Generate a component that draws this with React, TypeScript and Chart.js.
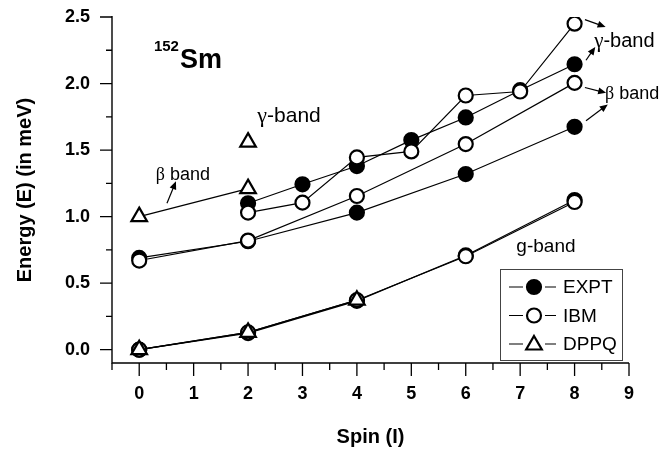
import React, { useEffect, useRef } from 'react';
import { Chart, registerables } from 'chart.js';

Chart.register(...registerables);

// ---------- axis ranges & ticks ----------
const X_MIN = -0.5;
const X_MAX = 9;
const Y_MIN = -0.1;
const Y_MAX = 2.5;
const xMajor = [0, 1, 2, 3, 4, 5, 6, 7, 8, 9];
const xMinor = [-0.5, 0.5, 1.5, 2.5, 3.5, 4.5, 5.5, 6.5, 7.5, 8.5];
const yMajor = [0, 0.5, 1, 1.5, 2, 2.5];
const yMinor = [0.25, 0.75, 1.25, 1.75, 2.25];

// ---------- data (spin I, energy E) ----------
// g-band
const groundSpins = [0, 2, 4, 6, 8];
const exptGround = [0.0, 0.125, 0.367, 0.708, 1.125];
const ibmGround = [0.0, 0.13, 0.372, 0.702, 1.11];
const dppqGroundSpins = [0, 2, 4];
const dppqGround = [0.0, 0.13, 0.372];
// beta band
const betaSpins = [0, 2, 4, 6, 8];
const exptBeta = [0.69, 0.815, 1.03, 1.32, 1.675];
const ibmBeta = [0.67, 0.82, 1.155, 1.545, 2.005];
const dppqBetaSpins = [0, 2];
const dppqBeta = [1.0, 1.21];
// gamma band
const gammaSpins = [2, 3, 4, 5, 6, 7, 8];
const exptGamma = [1.1, 1.243, 1.38, 1.575, 1.745, 1.95, 2.145];
const ibmGamma = [1.03, 1.105, 1.445, 1.49, 1.91, 1.94, 2.45];
const dppqGammaSpins = [2];
const dppqGamma = [1.56];

// ---------- annotations (data coordinates) ----------
const SERIF = '"Liberation Serif", "Times New Roman", serif';
const SANS = '"Liberation Sans", Arial, Helvetica, sans-serif';

const labels = [
  { x: 2.17, y: 1.71, parts: [{ t: '\u03b3', f: `22px ${SERIF}` }, { t: '-band', f: `21px ${SANS}` }] },
  { x: 0.305, y: 1.275, parts: [{ t: '\u03b2', f: `18px ${SERIF}` }, { t: ' band', f: `18px ${SANS}` }] },
  { x: 8.36, y: 2.275, parts: [{ t: '\u03b3', f: `21px ${SERIF}` }, { t: '-band', f: `20px ${SANS}` }] },
  { x: 8.56, y: 1.883, parts: [{ t: '\u03b2', f: `18px ${SERIF}` }, { t: ' band', f: `18px ${SANS}` }] },
  { x: 6.93, y: 0.737, parts: [{ t: 'g-band', f: `19px ${SANS}` }] },
];
const nucleusPos = { x: 0.27, y: 2.243 };

const arrows = [
  { from: [0.51, 1.1], to: [0.675, 1.265] },
  { from: [8.19, 2.48], to: [8.57, 2.425] },
  { from: [8.21, 2.175], to: [8.38, 2.275] },
  { from: [8.19, 1.97], to: [8.58, 1.93] },
  { from: [8.21, 1.72], to: [8.61, 1.843] },
];

const legendItems = [
  { label: 'EXPT', style: 'circle', fill: '#000' },
  { label: 'IBM', style: 'circle', fill: '#fff' },
  { label: 'DPPQ', style: 'triangle', fill: '#fff' },
];

// ---------- helpers ----------
const pts = (xs: number[], ys: number[]) => xs.map((x, i) => ({ x, y: ys[i] }));

const lineDs = (xs: number[], ys: number[]) => ({
  data: pts(xs, ys),
  showLine: true,
  borderColor: '#000',
  borderWidth: 1.2,
  pointRadius: 0,
  pointHoverRadius: 0,
  fill: false,
  tension: 0,
  order: 10,
});

const markDs = (xs: number[], ys: number[], style: string, fill: string, r: number, order: number) => ({
  data: pts(xs, ys),
  showLine: false,
  pointStyle: style,
  pointRadius: r,
  pointHoverRadius: r,
  pointBackgroundColor: fill,
  pointBorderColor: '#000',
  pointBorderWidth: 2.2,
  order,
});

const CIRCLE_R = 7;
const TRI_R = 9;

const datasets = [
  lineDs(groundSpins, exptGround),
  lineDs(groundSpins, ibmGround),
  lineDs(dppqGroundSpins, dppqGround),
  lineDs(betaSpins, exptBeta),
  lineDs(betaSpins, ibmBeta),
  lineDs(dppqBetaSpins, dppqBeta),
  lineDs(gammaSpins, exptGamma),
  lineDs(gammaSpins, ibmGamma),
  markDs(groundSpins, exptGround, 'circle', '#000', CIRCLE_R, 3),
  markDs(betaSpins, exptBeta, 'circle', '#000', CIRCLE_R, 3),
  markDs(gammaSpins, exptGamma, 'circle', '#000', CIRCLE_R, 3),
  markDs(groundSpins, ibmGround, 'circle', '#fff', CIRCLE_R, 2),
  markDs(betaSpins, ibmBeta, 'circle', '#fff', CIRCLE_R, 2),
  markDs(gammaSpins, ibmGamma, 'circle', '#fff', CIRCLE_R, 2),
  markDs(dppqGroundSpins, dppqGround, 'triangle', '#fff', TRI_R, 1),
  markDs(dppqBetaSpins, dppqBeta, 'triangle', '#fff', TRI_R, 1),
  markDs(dppqGammaSpins, dppqGamma, 'triangle', '#fff', TRI_R, 1),
];

function drawMarker(ctx: CanvasRenderingContext2D, style: string, fill: string, x: number, y: number) {
  ctx.save();
  ctx.lineWidth = 2.2;
  ctx.strokeStyle = '#000';
  ctx.fillStyle = fill;
  ctx.beginPath();
  if (style === 'circle') {
    ctx.arc(x, y, CIRCLE_R, 0, Math.PI * 2);
  } else {
    let a = 0;
    for (let k = 0; k < 3; k++) {
      const px = x + Math.sin(a) * TRI_R;
      const py = y - Math.cos(a) * TRI_R;
      if (k === 0) ctx.moveTo(px, py);
      else ctx.lineTo(px, py);
      a += (Math.PI * 2) / 3;
    }
    ctx.closePath();
  }
  ctx.fill();
  ctx.stroke();
  ctx.restore();
}

const decorPlugin = {
  id: 'decor',
  afterDatasetsDraw(chart: any) {
    const { ctx, chartArea, scales } = chart;
    const xs = scales.x;
    const ys = scales.y;
    const L = chartArea.left;
    const B = chartArea.bottom;
    ctx.save();
    // axis lines
    ctx.strokeStyle = '#000';
    ctx.lineWidth = 1.4;
    ctx.beginPath();
    ctx.moveTo(L, chartArea.top - 1);
    ctx.lineTo(L, B);
    ctx.lineTo(chartArea.right, B);
    ctx.stroke();
    // ticks
    ctx.lineWidth = 1.3;
    ctx.beginPath();
    xMajor.forEach((v) => {
      const p = xs.getPixelForValue(v);
      ctx.moveTo(p, B);
      ctx.lineTo(p, B + 13);
    });
    xMinor.forEach((v) => {
      const p = xs.getPixelForValue(v);
      ctx.moveTo(p, B);
      ctx.lineTo(p, B + 7);
    });
    yMajor.forEach((v) => {
      const p = ys.getPixelForValue(v);
      ctx.moveTo(L, p);
      ctx.lineTo(L - 12, p);
    });
    yMinor.forEach((v) => {
      const p = ys.getPixelForValue(v);
      ctx.moveTo(L, p);
      ctx.lineTo(L - 6, p);
    });
    ctx.stroke();

    // axis titles
    ctx.fillStyle = '#000';
    ctx.font = `bold 20px ${SANS}`;
    ctx.textAlign = 'center';
    ctx.textBaseline = 'middle';
    ctx.fillText('Spin (I)', (chartArea.left + chartArea.right) / 2, 437);
    ctx.save();
    ctx.translate(25, (chartArea.top + chartArea.bottom) / 2);
    ctx.rotate(-Math.PI / 2);
    ctx.fillText('Energy (E) (in meV)', 0, 0);
    ctx.restore();

    // nucleus label
    ctx.textAlign = 'left';
    ctx.textBaseline = 'alphabetic';
    const nx = xs.getPixelForValue(nucleusPos.x);
    const ny = ys.getPixelForValue(nucleusPos.y);
    ctx.font = `bold 15px ${SANS}`;
    ctx.fillText('152', nx, ny);
    const w152 = ctx.measureText('152').width;
    ctx.font = `bold 27px ${SANS}`;
    ctx.fillText('Sm', nx + w152 + 1, ny + 17);

    // band labels
    labels.forEach((lb) => {
      let px = xs.getPixelForValue(lb.x);
      const py = ys.getPixelForValue(lb.y);
      lb.parts.forEach((pt) => {
        ctx.font = pt.f;
        ctx.fillText(pt.t, px, py);
        px += ctx.measureText(pt.t).width;
      });
    });

    // arrows
    arrows.forEach((a) => {
      const x1 = xs.getPixelForValue(a.from[0]);
      const y1 = ys.getPixelForValue(a.from[1]);
      const x2 = xs.getPixelForValue(a.to[0]);
      const y2 = ys.getPixelForValue(a.to[1]);
      const ang = Math.atan2(y2 - y1, x2 - x1);
      const hl = 8;
      const hw = 3.5;
      ctx.lineWidth = 1.2;
      ctx.beginPath();
      ctx.moveTo(x1, y1);
      ctx.lineTo(x2 - Math.cos(ang) * hl * 0.8, y2 - Math.sin(ang) * hl * 0.8);
      ctx.stroke();
      ctx.beginPath();
      ctx.moveTo(x2, y2);
      ctx.lineTo(x2 - Math.cos(ang) * hl - Math.sin(ang) * hw, y2 - Math.sin(ang) * hl + Math.cos(ang) * hw);
      ctx.lineTo(x2 - Math.cos(ang) * hl + Math.sin(ang) * hw, y2 - Math.sin(ang) * hl - Math.cos(ang) * hw);
      ctx.closePath();
      ctx.fill();
    });

    // legend
    const boxR = chartArea.right - 7;
    const boxB = chartArea.bottom - 3;
    const boxW = 122;
    const boxH = 91;
    const boxL = boxR - boxW;
    const boxT = boxB - boxH;
    ctx.fillStyle = '#fff';
    ctx.fillRect(boxL, boxT, boxW, boxH);
    ctx.strokeStyle = '#444';
    ctx.lineWidth = 1;
    ctx.strokeRect(boxL + 0.5, boxT + 0.5, boxW, boxH);
    legendItems.forEach((it, i) => {
      const cy = boxT + 18 + i * 28.5;
      const cx = boxL + 34;
      ctx.strokeStyle = '#000';
      ctx.lineWidth = 1.2;
      ctx.beginPath();
      ctx.moveTo(boxL + 9, cy);
      ctx.lineTo(boxL + 23, cy);
      ctx.moveTo(boxL + 45, cy);
      ctx.lineTo(boxL + 56, cy);
      ctx.stroke();
      drawMarker(ctx, it.style, it.fill, cx, it.style === 'triangle' ? cy + 1 : cy);
      ctx.fillStyle = '#000';
      ctx.font = `19px ${SANS}`;
      ctx.textAlign = 'left';
      ctx.textBaseline = 'middle';
      ctx.fillText(it.label, boxL + 63, cy + 1);
    });
    ctx.restore();
  },
};

export default function App() {
  const ref = useRef<HTMLCanvasElement>(null);
  useEffect(() => {
    document.body.style.margin = '0';
    const chart = new Chart(ref.current as HTMLCanvasElement, {
      type: 'scatter',
      data: { datasets: datasets as any },
      options: {
        animation: false,
        responsive: true,
        maintainAspectRatio: false,
        events: [],
        layout: { padding: { top: 17, right: 36, bottom: 0, left: 0 }, autoPadding: false },
        plugins: { legend: { display: false }, tooltip: { enabled: false } },
        scales: {
          x: {
            type: 'linear',
            min: X_MIN,
            max: X_MAX,
            afterBuildTicks: (s: any) => {
              s.ticks = xMajor.map((v) => ({ value: v }));
            },
            afterFit: (s: any) => {
              s.height = 94;
            },
            grid: { display: true, drawOnChartArea: false, drawTicks: true, tickLength: 20, tickColor: 'rgba(0,0,0,0)' },
            border: { display: false },
            ticks: {
              padding: 0,
              color: '#000',
              font: { family: SANS, size: 18, weight: 'bold' },
              callback: (v: any) => String(v),
              maxRotation: 0,
              autoSkip: false,
            },
          },
          y: {
            type: 'linear',
            min: Y_MIN,
            max: Y_MAX,
            afterBuildTicks: (s: any) => {
              s.ticks = yMajor.map((v) => ({ value: v }));
            },
            afterFit: (s: any) => {
              s.width = 112;
            },
            grid: { display: true, drawOnChartArea: false, drawTicks: true, tickLength: 22, tickColor: 'rgba(0,0,0,0)' },
            border: { display: false },
            ticks: {
              padding: 0,
              color: '#000',
              font: { family: SANS, size: 18, weight: 'bold' },
              callback: (v: any) => Number(v).toFixed(1),
              autoSkip: false,
            },
          },
        },
      },
      plugins: [decorPlugin],
    } as any);
    return () => chart.destroy();
  }, []);
  return (
    <div style={{ position: 'fixed', left: 0, top: 0, width: 665, height: 457 }}>
      <canvas ref={ref} style={{ display: 'block' }} />
    </div>
  );
}
